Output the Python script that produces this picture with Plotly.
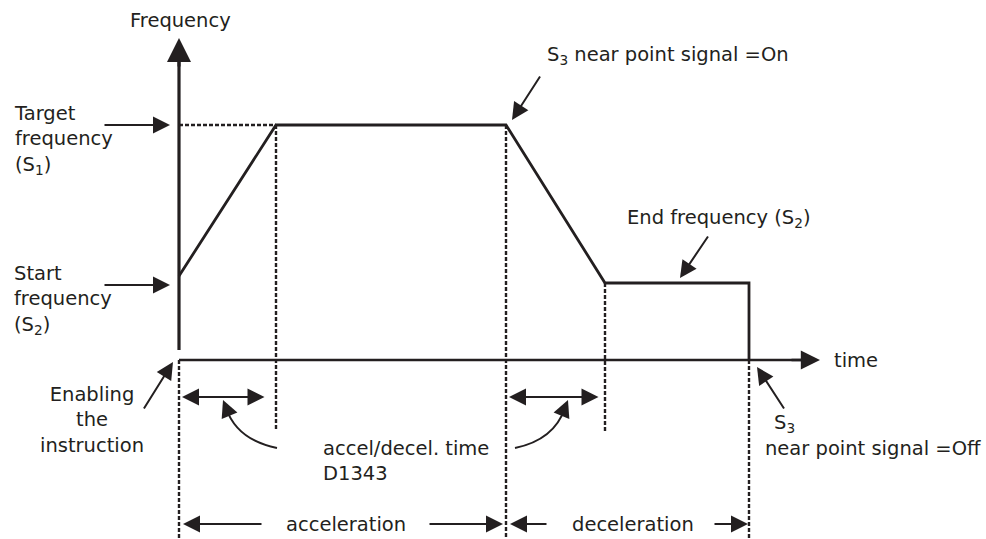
import plotly.graph_objects as go

# frequency profile (time units from origin, frequency units above the time axis)
profile_t = [0, 97, 327, 426, 570, 570]
profile_f = [84, 235, 235, 77, 77, 0]

target_f = profile_f[1]
start_f = profile_f[0]
end_f = profile_f[3]
accel_end_t = profile_t[1]
decel_start_t = profile_t[2]
decel_end_t = profile_t[3]
stop_t = profile_t[4]

axis_f_top = 322
axis_t_end = 641
bottom_f = -179

FONT = dict(family="DejaVu Sans", size=19.5, color="#231f20")
INK = "#231f20"

fig = go.Figure()

# frequency curve
fig.add_trace(go.Scatter(x=profile_t, y=profile_f, mode="lines",
                         line=dict(color=INK, width=2.8), hoverinfo="skip"))

# axes lines
fig.add_trace(go.Scatter(x=[0, 0], y=[10, axis_f_top - 10], mode="lines",
                         line=dict(color=INK, width=3.2), hoverinfo="skip"))
fig.add_trace(go.Scatter(x=[0, axis_t_end - 10], y=[0, 0], mode="lines",
                         line=dict(color=INK, width=2.4), hoverinfo="skip"))

# dashed guide lines
dash = "4px,2px"
guides = [
    ([0, accel_end_t], [target_f, target_f]),
    ([accel_end_t, accel_end_t], [target_f, -70]),
    ([0, 0], [0, bottom_f]),
    ([decel_start_t, decel_start_t], [target_f, bottom_f]),
    ([decel_end_t, decel_end_t], [end_f, -72]),
    ([stop_t, stop_t], [0, bottom_f]),
]
for gx, gy in guides:
    fig.add_trace(go.Scatter(x=gx, y=gy, mode="lines",
                             line=dict(color=INK, width=2.4, dash=dash), hoverinfo="skip"))


def arrow(tip, tail, both=False, width=2, size=1.7):
    fig.add_annotation(x=tip[0], y=tip[1], ax=tail[0], ay=tail[1],
                       xref="x", yref="y", axref="x", ayref="y",
                       text="", showarrow=True, arrowhead=2, startarrowhead=2,
                       arrowside="end+start" if both else "end",
                       arrowsize=size, startarrowsize=size,
                       arrowwidth=width, arrowcolor=INK)


def label(x, y, text, xanchor="left", align="left"):
    fig.add_annotation(x=x, y=y, xref="x", yref="y", text=text, showarrow=False,
                       xanchor=xanchor, yanchor="middle", align=align,
                       font=FONT)


# axis arrow heads
arrow((0, axis_f_top), (0, axis_f_top - 30), width=3, size=1.6)
arrow((axis_t_end, 0), (axis_t_end - 30, 0), width=2.4, size=1.6)

# pointers
arrow((-9, target_f), (-76, target_f))
arrow((-9, 75), (-76, 75))
arrow((-6, -2), (-36, -50))
arrow((333, 240), (362, 285))
arrow((501, 82), (530, 125))
arrow((578, -7), (606, -50))

# accel / decel time double arrows
arrow((3, -37), (87, -37), both=True)
arrow((330, -37), (421, -37), both=True)

# curved pointers
fig.add_shape(type="path", path="M 98,-88 Q 58,-80 47,-48", xref="x", yref="y",
              line=dict(color=INK, width=2))
fig.add_shape(type="path", path="M 336,-88 Q 375,-80 386,-48", xref="x", yref="y",
              line=dict(color=INK, width=2))
arrow((44, -40), (49, -52))
arrow((389, -40), (384, -52))

# acceleration / deceleration spans
arrow((4, -164), (84, -164))
arrow((324, -164), (249, -164))
arrow((331, -164), (369, -164))
arrow((569, -164), (534, -164))

# labels
label(1, 340, "Frequency", xanchor="center", align="center")
label(-167, 220, "Target<br>frequency<br>(S<sub>1</sub>)")
label(-167, 60, "Start<br>frequency<br>(S<sub>2</sub>)")
label(-87, -60, "Enabling<br>the<br>instruction", xanchor="center", align="center")
label(366, 305, "S<sub>3</sub> near point signal =On")
label(446, 142, "End frequency (S<sub>2</sub>)")
label(653, 0, "time")
label(593, -63, "S<sub>3</sub>")
label(584, -88, "near point signal =Off")
label(142, -101, "accel/decel. time<br>D1343")
label(167, -164, "acceleration", xanchor="center", align="center")
label(454, -164, "deceleration", xanchor="center", align="center")

fig.update_layout(
    width=986, height=539,
    margin=dict(l=0, r=0, t=0, b=0),
    paper_bgcolor="white", plot_bgcolor="white",
    showlegend=False,
    xaxis=dict(range=[-179, 807], visible=False, fixedrange=True),
    yaxis=dict(range=[-179, 360], visible=False, fixedrange=True),
)

fig.write_html("out.html", config={"displayModeBar": False},
               post_script="document.body.style.margin='0';")
